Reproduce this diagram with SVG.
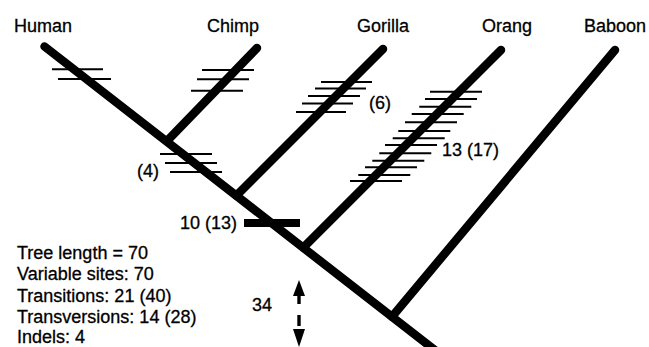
<svg xmlns="http://www.w3.org/2000/svg" width="649" height="347" viewBox="0 0 649 347">
<style>
  text { font-family: "Liberation Sans", Arial, Helvetica, sans-serif; font-size: 18px; fill: #000; stroke: #000; stroke-width: 0.3; }
  .br { stroke: #000; stroke-width: 8.5; stroke-linecap: round; fill: none; }
  .tk { stroke: #000; stroke-width: 2; }
</style>
<rect width="649" height="347" fill="#fff"/>
<g id="connectors">
  <path class="br" d="M44.5,46.5 L445,358"/>
  <path class="br" d="M167,141 L257,48"/>
  <path class="br" d="M236.5,195.5 L383,49"/>
  <path class="br" d="M303.4,247.6 L501,50"/>
  <path class="br" d="M392,316.7 L615,50"/>
</g>
<g id="human">
  <text x="14" y="32">Human</text>
  <line class="tk" x1="52" y1="69.3" x2="103" y2="69.3"/>
  <line class="tk" x1="58" y1="79" x2="111" y2="79"/>
</g>
<g id="chimp">
  <text x="207" y="32">Chimp</text>
  <line class="tk" x1="202" y1="70" x2="254" y2="70"/>
  <line class="tk" x1="197" y1="79.3" x2="249" y2="79.3"/>
  <line class="tk" x1="191" y1="90.7" x2="243" y2="90.7"/>
</g>
<g id="human-chimp">
  <line class="tk" x1="160" y1="154" x2="212" y2="154"/>
  <line class="tk" x1="165" y1="163" x2="217" y2="163"/>
  <line class="tk" x1="170" y1="172" x2="222" y2="172"/>
  <text x="137" y="177">(4)</text>
</g>
<g id="gorilla">
  <text x="357" y="32">Gorilla</text>
  <line class="tk" x1="321" y1="82" x2="372" y2="82"/>
  <line class="tk" x1="315" y1="88.5" x2="366" y2="88.5"/>
  <line class="tk" x1="308" y1="96" x2="360" y2="96"/>
  <line class="tk" x1="302" y1="103.5" x2="353" y2="103.5"/>
  <line class="tk" x1="296" y1="112" x2="346" y2="112"/>
  <text x="369" y="109">(6)</text>
</g>
<g id="hcg">
  <rect x="244" y="219" width="56" height="8" fill="#000"/>
  <text x="180" y="229">10 (13)</text>
</g>
<g id="orang">
  <text x="482" y="32">Orang</text>
  <line class="tk" x1="430" y1="91.7" x2="482" y2="91.7"/>
  <line class="tk" x1="425" y1="99" x2="477" y2="99"/>
  <line class="tk" x1="419.3" y1="106.7" x2="471.3" y2="106.7"/>
  <line class="tk" x1="411.7" y1="114" x2="463.7" y2="114"/>
  <line class="tk" x1="405" y1="122.3" x2="457" y2="122.3"/>
  <line class="tk" x1="398.3" y1="131" x2="450.3" y2="131"/>
  <line class="tk" x1="392.7" y1="138.3" x2="444.7" y2="138.3"/>
  <line class="tk" x1="385" y1="145" x2="437" y2="145"/>
  <line class="tk" x1="379.3" y1="153.3" x2="431.3" y2="153.3"/>
  <line class="tk" x1="372.3" y1="160.7" x2="424.3" y2="160.7"/>
  <line class="tk" x1="365" y1="167.3" x2="417" y2="167.3"/>
  <line class="tk" x1="358.3" y1="175" x2="410.3" y2="175"/>
  <line class="tk" x1="350" y1="181" x2="402" y2="181"/>
  <text x="442" y="156">13 (17)</text>
</g>
<g id="baboon">
  <text x="584" y="32">Baboon</text>
</g>
<g id="scale">
  <text x="252" y="311">34</text>
  <polygon points="299,280 305,296 293,296" fill="#000"/>
  <rect x="297.3" y="295" width="3.4" height="9" fill="#000"/>
  <rect x="297.3" y="315" width="3.4" height="11" fill="#000"/>
  <polygon points="293,329 305,329 299,347" fill="#000"/>
</g>
<g id="stats">
  <text x="17" y="258.5">Tree length = 70</text>
  <text x="17" y="280">Variable sites: 70</text>
  <text x="17" y="301.5">Transitions: 21 (40)</text>
  <text x="17" y="323">Transversions: 14 (28)</text>
  <text x="17" y="343">Indels: 4</text>
</g>
</svg>
